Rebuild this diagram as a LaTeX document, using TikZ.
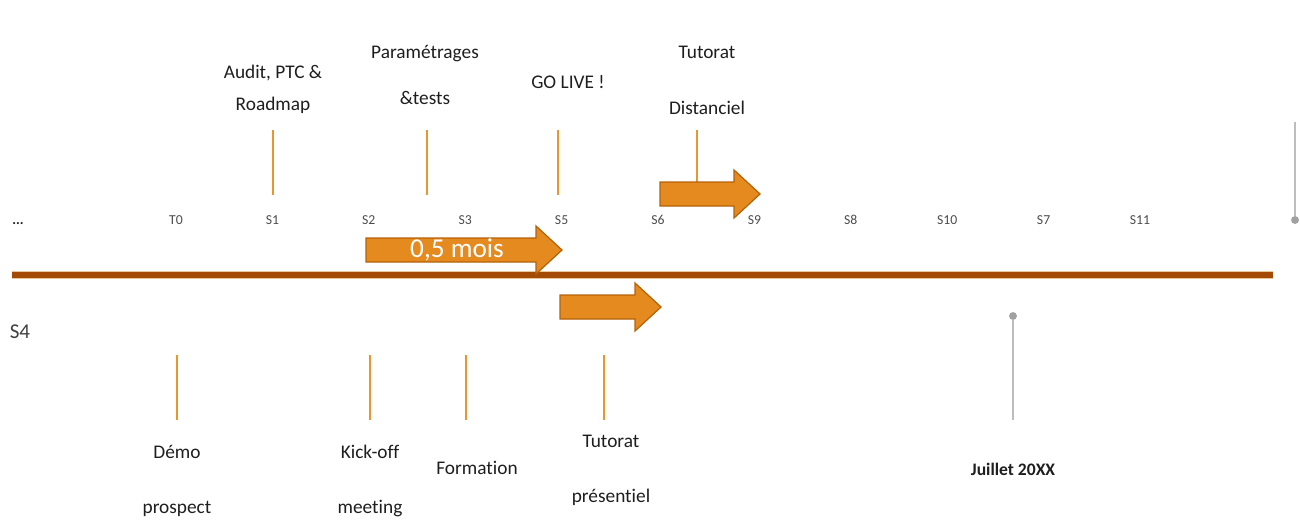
\documentclass[tikz,border=0pt]{standalone}
\usepackage{fontspec}
\setmainfont{Carlito}[Ligatures=NoCommon]
\definecolor{orangefill}{HTML}{E58A1F}
\definecolor{orangeedge}{HTML}{B5620A}
\definecolor{ticko}{HTML}{E8962E}
\definecolor{brownline}{HTML}{A34A06}
\definecolor{tanline}{HTML}{E9C79A}
\definecolor{pingrey}{HTML}{BDBDBD}
\definecolor{txt}{HTML}{1E1E1E}
\begin{document}
\begin{tikzpicture}[x=0.02cm,y=-0.02cm,
    lbl/.style={font=\fontsize{11}{13.5}\selectfont,text=txt,align=center,inner sep=0pt},
    ticklbl/.style={font=\fontsize{7.8}{9}\selectfont,text=black!70,inner sep=0pt},
    tick/.style={draw=ticko,line width=1.1pt},
    pin/.style={draw=pingrey,line width=1pt},
    pinhead/.style={circle,fill=pingrey!85!black,inner sep=0pt,minimum size=4.5pt},
    bigarrow/.style={fill=orangefill,draw=orangeedge,line width=0.7pt,line join=miter}]
  \useasboundingbox (0,0) rectangle (1300,527);
  % axis
  \coordinate (axis-w) at (12,275);
  \coordinate (axis-e) at (1273,275);
  \draw[tanline,line width=4.6pt] (axis-w) -- (axis-e);
  \draw[brownline,line width=3pt] (axis-w) -- (axis-e);
  % sprint labels
  \node[ticklbl,font=\fontsize{8}{9}\selectfont\bfseries,text=txt] (dots) at (18,224) {...};
  \foreach \n [count=\i] in {T0,S1,S2,S3,S5,S6,S9,S8,S10,S7,S11}{
    \node[ticklbl] (s\i) at ({176+96.4*(\i-1)},220) {\n}; }
  \node[font=\fontsize{12}{14}\selectfont,text=txt!85,inner sep=0pt] (s4) at (20,332) {S4};
  % milestones above
  \foreach \n/\x/\y in {a/273/195, b/427/195, c/558/195, d/697/183}{
    \coordinate (up-\n) at (\x,130);
    \coordinate (dn-\n) at (\x,\y);
    \draw[tick] (up-\n) -- (dn-\n); }
  \node[lbl] (audit) at (273,89) {Audit, PTC \&\\[4.6pt]Roadmap};
  \node[lbl] (param) at (425,75) {Paramétrages\\[12.6pt]\&tests};
  \node[lbl] (golive) at (568,82) {GO LIVE !};
  \node[lbl] (tutdist) at (707,80) {Tutorat\\[18.3pt]Distanciel};
  % milestones below
  \foreach \n/\x in {e/177, f/370, g/466, h/604}{
    \coordinate (up-\n) at (\x,355);
    \coordinate (dn-\n) at (\x,420);
    \draw[tick] (up-\n) -- (dn-\n); }
  \node[lbl] (demo) at (177,481) {Démo\\[17.7pt]prospect};
  \node[lbl] (kickoff) at (370,481) {Kick-off\\[17.7pt]meeting};
  \node[lbl] (formation) at (477,468) {Formation};
  \node[lbl] (tutpres) at (611,470) {Tutorat\\[17.7pt]présentiel};
  % durations
  \foreach \ax/\ay/\al in {366/250/196, 660/194/100, 560/307/101}{
    \draw[bigarrow] (\ax,{\ay-12}) -- ({\ax+\al-26},{\ay-12}) -- ({\ax+\al-26},{\ay-24})
      -- ({\ax+\al},\ay) -- ({\ax+\al-26},{\ay+24}) -- ({\ax+\al-26},{\ay+12})
      -- (\ax,{\ay+12}) -- cycle; }
  \node[font=\fontsize{15.5}{17}\selectfont,text=white,inner sep=0pt] (halfmonth) at (457,250) {0,5 mois};
  % grey pins
  \node[pinhead] (pin-r) at (1295,220) {};
  \coordinate (pin-r-top) at (1295,122);
  \draw[pin] (pin-r-top) -- (pin-r);
  \node[pinhead] (pin-j) at (1013,316) {};
  \coordinate (pin-j-bot) at (1013,420);
  \draw[pin] (pin-j) -- (pin-j-bot);
  \node[font=\fontsize{10}{12}\selectfont\bfseries,text=txt,inner sep=0pt] (juillet) at (1013,469) {Juillet 20XX};
\end{tikzpicture}
\end{document}
